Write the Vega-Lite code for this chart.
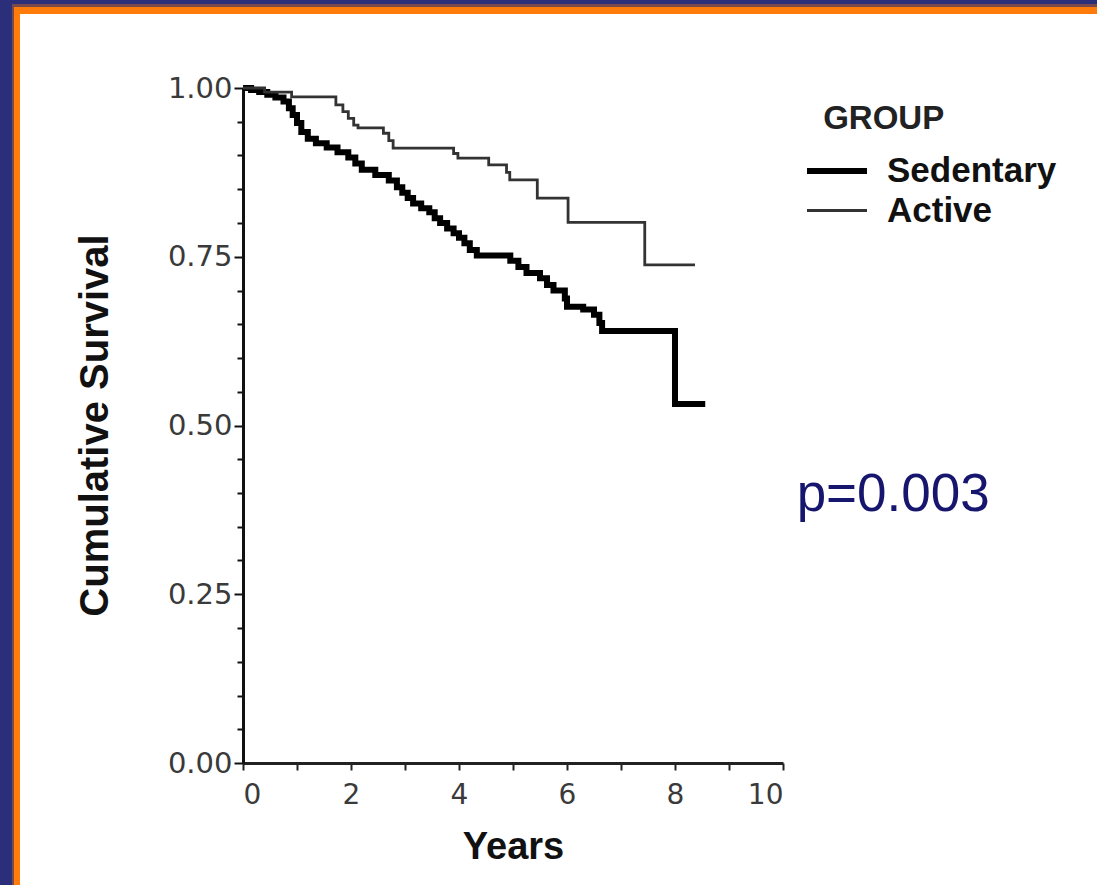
{
  "$schema": "https://vega.github.io/schema/vega-lite/v6.json",
  "width": 540,
  "height": 675,
  "autosize": {"type": "none"},
  "padding": {"left": 243, "top": 88, "right": 314, "bottom": 122},
  "background": "white",
  "config": {
    "view": {"stroke": null},
    "axis": {"labelOverlap": false, "grid": false},
    "axisY": {"tickCount": 40, "labelOverlap": false},
    "axisX": {"tickCount": 40, "labelOverlap": false}
  },
  "datasets": {
    "km": [
      {"group": "Sedentary", "t": 0, "s": 1.0},
      {"group": "Sedentary", "t": 0.15, "s": 0.997},
      {"group": "Sedentary", "t": 0.3, "s": 0.994},
      {"group": "Sedentary", "t": 0.45, "s": 0.99},
      {"group": "Sedentary", "t": 0.6, "s": 0.986},
      {"group": "Sedentary", "t": 0.75, "s": 0.98},
      {"group": "Sedentary", "t": 0.85, "s": 0.97},
      {"group": "Sedentary", "t": 0.92, "s": 0.96},
      {"group": "Sedentary", "t": 1.0, "s": 0.948},
      {"group": "Sedentary", "t": 1.08, "s": 0.935},
      {"group": "Sedentary", "t": 1.2, "s": 0.925},
      {"group": "Sedentary", "t": 1.35, "s": 0.918},
      {"group": "Sedentary", "t": 1.55, "s": 0.912},
      {"group": "Sedentary", "t": 1.75, "s": 0.905},
      {"group": "Sedentary", "t": 1.95, "s": 0.897},
      {"group": "Sedentary", "t": 2.08, "s": 0.888},
      {"group": "Sedentary", "t": 2.2, "s": 0.879},
      {"group": "Sedentary", "t": 2.45, "s": 0.871},
      {"group": "Sedentary", "t": 2.7, "s": 0.863},
      {"group": "Sedentary", "t": 2.85, "s": 0.853},
      {"group": "Sedentary", "t": 2.95, "s": 0.845},
      {"group": "Sedentary", "t": 3.05, "s": 0.837},
      {"group": "Sedentary", "t": 3.15, "s": 0.829},
      {"group": "Sedentary", "t": 3.3, "s": 0.822},
      {"group": "Sedentary", "t": 3.45, "s": 0.816},
      {"group": "Sedentary", "t": 3.55, "s": 0.807},
      {"group": "Sedentary", "t": 3.65, "s": 0.8},
      {"group": "Sedentary", "t": 3.78, "s": 0.792},
      {"group": "Sedentary", "t": 3.9, "s": 0.785},
      {"group": "Sedentary", "t": 4.0, "s": 0.778},
      {"group": "Sedentary", "t": 4.1, "s": 0.77},
      {"group": "Sedentary", "t": 4.2, "s": 0.76},
      {"group": "Sedentary", "t": 4.33, "s": 0.752},
      {"group": "Sedentary", "t": 4.95, "s": 0.744},
      {"group": "Sedentary", "t": 5.1, "s": 0.735},
      {"group": "Sedentary", "t": 5.25, "s": 0.726},
      {"group": "Sedentary", "t": 5.5, "s": 0.718},
      {"group": "Sedentary", "t": 5.63, "s": 0.708},
      {"group": "Sedentary", "t": 5.75, "s": 0.7},
      {"group": "Sedentary", "t": 5.96, "s": 0.688},
      {"group": "Sedentary", "t": 6.0, "s": 0.676},
      {"group": "Sedentary", "t": 6.3, "s": 0.672},
      {"group": "Sedentary", "t": 6.5, "s": 0.664},
      {"group": "Sedentary", "t": 6.6, "s": 0.652},
      {"group": "Sedentary", "t": 6.65, "s": 0.64},
      {"group": "Sedentary", "t": 8.0, "s": 0.532},
      {"group": "Sedentary", "t": 8.56, "s": 0.532},
      {"group": "Active", "t": 0, "s": 1.0},
      {"group": "Active", "t": 0.4, "s": 0.994},
      {"group": "Active", "t": 0.9, "s": 0.987},
      {"group": "Active", "t": 1.72, "s": 0.975},
      {"group": "Active", "t": 1.85, "s": 0.965},
      {"group": "Active", "t": 1.95, "s": 0.955},
      {"group": "Active", "t": 2.05, "s": 0.945},
      {"group": "Active", "t": 2.13, "s": 0.941},
      {"group": "Active", "t": 2.6, "s": 0.933},
      {"group": "Active", "t": 2.7, "s": 0.922},
      {"group": "Active", "t": 2.78, "s": 0.911},
      {"group": "Active", "t": 3.9, "s": 0.903},
      {"group": "Active", "t": 3.98, "s": 0.896},
      {"group": "Active", "t": 4.55, "s": 0.886},
      {"group": "Active", "t": 4.88, "s": 0.875},
      {"group": "Active", "t": 4.94, "s": 0.864},
      {"group": "Active", "t": 5.45, "s": 0.837},
      {"group": "Active", "t": 6.02, "s": 0.801},
      {"group": "Active", "t": 7.44, "s": 0.738},
      {"group": "Active", "t": 8.37, "s": 0.738}
    ]
  },
  "layer": [
    {
      "data": {"name": "km"},
      "mark": {"type": "line", "interpolate": "step-after", "strokeCap": "butt", "strokeJoin": "miter"},
      "encoding": {
        "x": {
          "field": "t", "type": "quantitative",
          "scale": {"domain": [0, 10], "nice": false},
          "axis": {
            "title": "Years",
            "values": [0, 1, 2, 3, 4, 5, 6, 7, 8, 9, 10],
            "tickCount": 40,
            "labelExpr": "datum.value % 2 === 0 ? datum.value : ''",
            "labelOverlap": false,
            "grid": false,
            "domainColor": "#222",
            "domainWidth": 3,
            "tickColor": "#222",
            "tickWidth": 2,
            "tickSize": 7,
            "labelFont": "DejaVu Sans",
            "labelFontSize": 28,
            "labelColor": "#3a3a3a",
            "labelPadding": 11,
            "titleFont": "Liberation Sans",
            "titleFontWeight": "bold",
            "titleFontSize": 38,
            "titleColor": "#111",
            "titleBaseline": "alphabetic",
            "titleY": 95
          }
        },
        "y": {
          "field": "s", "type": "quantitative",
          "scale": {"domain": [0, 1], "nice": false},
          "axis": {
            "title": "Cumulative  Survival",
            "values": [0, 0.05, 0.1, 0.15, 0.2, 0.25, 0.3, 0.35, 0.4, 0.45, 0.5, 0.55, 0.6, 0.65, 0.7, 0.75, 0.8, 0.85, 0.9, 0.95, 1.0],
            "tickCount": 40,
            "labelExpr": "abs(datum.value*4 - round(datum.value*4)) < 0.000001 ? format(datum.value, '.2f') : ''",
            "labelOverlap": false,
            "grid": false,
            "domainColor": "#111",
            "domainWidth": 3,
            "tickColor": "#111",
            "tickWidth": 2,
            "tickSize": {"condition": {"test": "abs(datum.value*4 - round(datum.value*4)) < 0.000001", "value": 9}, "value": 6},
            "labelFont": "DejaVu Sans",
            "labelFontSize": 29,
            "labelColor": "#3a3a3a",
            "labelPadding": 2,
            "labelBaseline": "middle",
            "titleFont": "Liberation Sans",
            "titleFontWeight": "bold",
            "titleFontSize": 40,
            "titleColor": "#111",
            "titleAngle": 270,
            "titleBaseline": "alphabetic",
            "titleX": -136,
            "titleY": 337
          }
        },
        "color": {
          "field": "group", "type": "nominal",
          "scale": {"domain": ["Sedentary", "Active"], "range": ["#000000", "#333333"]},
          "legend": {
            "title": "\u200b\u00a0GROUP",
            "orient": "none",
            "legendX": 571,
            "legendY": 15,
            "symbolType": "M-1.5,0H1.5",
            "symbolSize": 1600,
            "labelOffset": 27,
            "labelLimit": 0,
            "titleFont": "Liberation Sans",
            "titleFontWeight": "bold",
            "titleFontSize": 33,
            "titleColor": "#222",
            "titlePadding": 12,
            "labelFont": "Liberation Sans",
            "labelFontWeight": "bold",
            "labelFontSize": 35,
            "labelColor": "#111",
            "rowPadding": 0
          }
        },
        "strokeWidth": {
          "field": "group", "type": "nominal",
          "scale": {"domain": ["Sedentary", "Active"], "range": [6, 2.8]}
        }
      }
    },
    {
      "data": {"values": [{}]},
      "mark": {"type": "rect", "color": "#2b2f7a"},
      "encoding": {
        "x": {"datum": -4.5, "type": "quantitative"},
        "x2": {"datum": -4.278},
        "y": {"datum": -0.1807, "type": "quantitative"},
        "y2": {"datum": 1.1304}
      }
    },
    {
      "data": {"values": [{}]},
      "mark": {"type": "rect", "color": "#2b2f7a"},
      "encoding": {
        "x": {"datum": -4.5, "type": "quantitative"},
        "x2": {"datum": 15.82},
        "y": {"datum": 1.1244, "type": "quantitative"},
        "y2": {"datum": 1.1304}
      }
    },
    {
      "data": {"values": [{}]},
      "mark": {"type": "rect", "color": "#7a4a4a"},
      "encoding": {
        "x": {"datum": -4.278, "type": "quantitative"},
        "x2": {"datum": 15.82},
        "y": {"datum": 1.12, "type": "quantitative"},
        "y2": {"datum": 1.1244}
      }
    },
    {
      "data": {"values": [{}]},
      "mark": {"type": "rect", "color": "#7a4a4a"},
      "encoding": {
        "x": {"datum": -4.278, "type": "quantitative"},
        "x2": {"datum": -4.24},
        "y": {"datum": -0.1807, "type": "quantitative"},
        "y2": {"datum": 1.12}
      }
    },
    {
      "data": {"values": [{}]},
      "mark": {"type": "rect", "color": "#ff7b0a"},
      "encoding": {
        "x": {"datum": -4.24, "type": "quantitative"},
        "x2": {"datum": 15.82},
        "y": {"datum": 1.1096, "type": "quantitative"},
        "y2": {"datum": 1.12}
      }
    },
    {
      "data": {"values": [{}]},
      "mark": {"type": "rect", "color": "#ff7b0a"},
      "encoding": {
        "x": {"datum": -4.24, "type": "quantitative"},
        "x2": {"datum": -4.13},
        "y": {"datum": -0.1807, "type": "quantitative"},
        "y2": {"datum": 1.12}
      }
    },
    {
      "data": {"values": [{"label": "p=0.003"}]},
      "mark": {"type": "text", "font": "Liberation Sans", "fontSize": 53, "color": "#16166e", "align": "center", "baseline": "alphabetic"},
      "encoding": {
        "text": {"field": "label"},
        "x": {"datum": 12.04, "type": "quantitative"},
        "y": {"datum": 0.373, "type": "quantitative"}
      }
    }
  ]
}
